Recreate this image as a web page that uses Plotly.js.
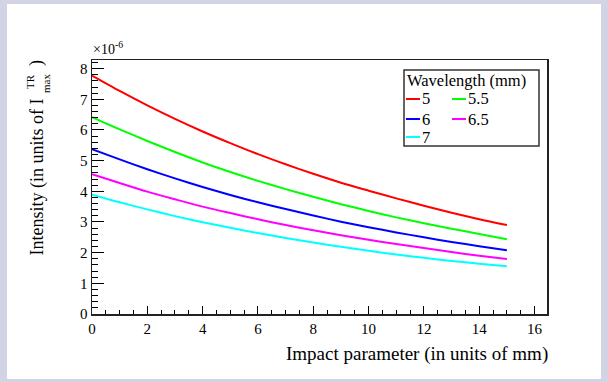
<!DOCTYPE html>
<html>
<head>
<meta charset="utf-8">
<script src="https://cdn.plot.ly/plotly-3.0.1.min.js"></script>
<style>
  html, body { margin: 0; padding: 0; background: #d3d3e6; width: 608px; height: 382px; overflow: hidden; }
  #chart { position: absolute; left: 7px; top: 4px; width: 594px; height: 375px; background: #ffffff; }
</style>
</head>
<body>
<div id="chart"></div>
<script>
// Impact parameter (mm)
const impact = [0, 1, 2, 3, 4, 5, 6, 7, 8, 9, 10, 11, 12, 13, 14, 15];

// Intensity in units of 1e-6 I_max^TR, one array per wavelength
const wl5   = [7.77, 7.27, 6.80, 6.36, 5.95, 5.57, 5.21, 4.88, 4.57, 4.28, 4.02, 3.77, 3.53, 3.30, 3.09, 2.90];
const wl5_5 = [6.42, 6.02, 5.64, 5.28, 4.94, 4.63, 4.34, 4.07, 3.82, 3.58, 3.36, 3.15, 2.96, 2.78, 2.61, 2.44];
const wl6   = [5.37, 5.04, 4.72, 4.42, 4.14, 3.88, 3.64, 3.42, 3.21, 3.01, 2.83, 2.66, 2.50, 2.35, 2.21, 2.08];
const wl6_5 = [4.56, 4.27, 3.99, 3.74, 3.50, 3.29, 3.09, 2.90, 2.73, 2.57, 2.42, 2.28, 2.15, 2.02, 1.90, 1.79];
const wl7   = [3.89, 3.64, 3.41, 3.19, 2.99, 2.81, 2.64, 2.48, 2.33, 2.19, 2.06, 1.94, 1.83, 1.73, 1.64, 1.56];

const seriesLabels = ['5', '5.5', '6', '6.5', '7'];
const seriesValues = [wl5, wl5_5, wl6, wl6_5, wl7];
const seriesColors = ['#ff0000', '#00ff00', '#0000ff', '#ff00ff', '#00ffff'];

const serif = 'Liberation Serif, Times New Roman, serif';

const traces = seriesValues.map((ys, i) => ({
  x: impact,
  y: ys,
  type: 'scatter',
  mode: 'lines',
  name: seriesLabels[i],
  line: { color: seriesColors[i], width: 2, shape: 'spline', smoothing: 0.8 },
  showlegend: false,
  hoverinfo: 'x+y'
}));

// Legend box drawn by hand: header row, then two columns of entries
const px = v => (v - 92) / 455;    // plot-area fraction from page x
const py = v => (314 - v) / 254;   // plot-area fraction from page y

const shapes = [
  { type: 'rect', xref: 'paper', yref: 'paper', x0: px(404), x1: px(539), y0: py(146), y1: py(70),
    line: { color: '#333333', width: 1.5 }, fillcolor: '#ffffff', layer: 'above' }
];
const annotations = [
  { xref: 'paper', yref: 'paper', x: px(405), y: py(80), xanchor: 'left', yanchor: 'middle',
    text: 'Wavelength (mm)', showarrow: false, font: { family: serif, size: 16.5, color: '#000' } }
];
const entryPos = [
  [406, 99], [452, 99],
  [406, 119], [452, 119],
  [406, 137]
];
seriesLabels.forEach((lab, i) => {
  const [ex, ey] = entryPos[i];
  shapes.push({ type: 'line', xref: 'paper', yref: 'paper', x0: px(ex), x1: px(ex + 14), y0: py(ey), y1: py(ey),
    line: { color: seriesColors[i], width: 2 }, layer: 'above' });
  annotations.push({ xref: 'paper', yref: 'paper', x: px(ex + 14), y: py(ey), xanchor: 'left', yanchor: 'middle',
    text: lab, showarrow: false, font: { family: serif, size: 16.5, color: '#000' } });
});

// Axis multiplier
annotations.push({ xref: 'paper', yref: 'paper', x: px(91), y: py(59), xanchor: 'left', yanchor: 'bottom',
  text: '\u00d710<sup>-6</sup>', showarrow: false, font: { family: serif, size: 14, color: '#000' } });

// X title, right-aligned to the frame
annotations.push({ xref: 'paper', yref: 'paper', x: 1, xshift: 3, y: py(354), xanchor: 'right', yanchor: 'middle',
  text: 'Impact parameter (in units of mm)', showarrow: false, font: { family: serif, size: 19, color: '#000' } });

// Y title with stacked super/subscript on I
annotations.push({ xref: 'paper', yref: 'paper', x: px(37), y: py(258), xanchor: 'center', yanchor: 'bottom',
  textangle: -90, text: 'Intensity (in units of I', showarrow: false, font: { family: serif, size: 18, color: '#000' } });
annotations.push({ xref: 'paper', yref: 'paper', x: px(30), y: py(82), xanchor: 'center', yanchor: 'middle',
  textangle: -90, text: 'TR', showarrow: false, font: { family: serif, size: 11, color: '#000' } });
annotations.push({ xref: 'paper', yref: 'paper', x: px(46), y: py(84), xanchor: 'center', yanchor: 'middle',
  textangle: -90, text: 'max', showarrow: false, font: { family: serif, size: 11, color: '#000' } });
annotations.push({ xref: 'paper', yref: 'paper', x: px(37), y: py(63), xanchor: 'center', yanchor: 'middle',
  textangle: -90, text: ')', showarrow: false, font: { family: serif, size: 18, color: '#000' } });

const layout = {
  width: 594,
  height: 375,
  margin: { l: 85, r: 54, t: 56, b: 65, pad: 0 },
  paper_bgcolor: '#ffffff',
  plot_bgcolor: '#ffffff',
  showlegend: false,
  xaxis: {
    range: [0, 16.45],
    dtick: 2,
    tick0: 0,
    ticks: 'inside',
    ticklen: 8,
    tickwidth: 1,
    tickcolor: '#000',
    showgrid: false,
    zeroline: false,
    showline: true,
    linecolor: '#222',
    linewidth: 1.5,
    mirror: true,
    tickfont: { family: serif, size: 15, color: '#000' },
    minor: { dtick: 0.5, ticks: 'inside', ticklen: 4, tickcolor: '#000', showgrid: false }
  },
  yaxis: {
    range: [0, 8.28],
    dtick: 1,
    tick0: 0,
    ticks: 'inside',
    ticklen: 12,
    tickwidth: 1,
    tickcolor: '#000',
    showgrid: false,
    zeroline: false,
    showline: true,
    linecolor: '#222',
    linewidth: 1.5,
    mirror: true,
    tickfont: { family: serif, size: 15, color: '#000' },
    minor: { dtick: 0.2, ticks: 'inside', ticklen: 6, tickcolor: '#000', showgrid: false }
  },
  shapes: shapes,
  annotations: annotations
};

Plotly.newPlot('chart', traces, layout, { displayModeBar: false, staticPlot: true });
</script>
</body>
</html>
